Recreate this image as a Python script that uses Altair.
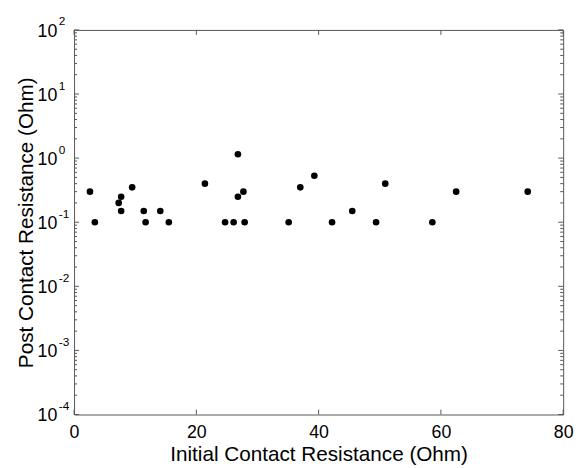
import altair as alt
import pandas as pd

# Data
initial = [2.6, 3.4, 7.3, 7.7, 7.7, 9.5, 11.4, 11.7, 14.1, 15.5, 21.4, 24.7, 26.1,
           26.8, 26.8, 27.7, 27.9, 35.1, 37.0, 39.3, 42.2, 45.5, 49.4, 50.9, 58.6, 62.5, 74.2]
post = [0.30, 0.10, 0.20, 0.25, 0.15, 0.35, 0.15, 0.10, 0.15, 0.10, 0.40, 0.10, 0.10,
        1.15, 0.25, 0.30, 0.10, 0.10, 0.35, 0.53, 0.10, 0.15, 0.10, 0.40, 0.10, 0.30, 0.30]

x_ticks = [0, 20, 40, 60, 80]
y_major = [1e-4, 1e-3, 1e-2, 1e-1, 1e0, 1e1, 1e2]
y_exp = ["-4", "-3", "-2", "-1", "0", "1", "2"]
y_minor = [m * 10.0 ** k for k in range(-4, 2) for m in range(2, 10)]

W, H = 496, 390
FONT = "Liberation Sans"
EDGE = "#555555"

pts = pd.DataFrame({"initial": initial, "post": post})
xt = pd.DataFrame({"initial": x_ticks})
ymaj = pd.DataFrame({"post": y_major, "e": y_exp})
ymin = pd.DataFrame({"post": y_minor})

xs = alt.Scale(domain=[0, 80], nice=False, zero=False)
ys = alt.Scale(type="log", domain=[1e-4, 1e2], nice=False)

x_axis = alt.Axis(
    values=x_ticks, ticks=False, domain=False, grid=False,
    labelFont=FONT, labelFontSize=18, labelColor="black", labelPadding=9,
    labelFlush=False, labelOverlap=False,
    title="Initial Contact Resistance (Ohm)", titleFont=FONT, titleFontSize=21,
    titleFontWeight="normal", titleColor="black", titlePadding=3)
y_axis = alt.Axis(
    labels=False, ticks=False, domain=False, grid=False,
    title="Post Contact Resistance (Ohm)", titleFont=FONT, titleFontSize=21,
    titleFontWeight="normal", titleColor="black", titlePadding=38)

X = lambda: alt.X("initial:Q", scale=xs, axis=x_axis)
Y = lambda: alt.Y("post:Q", scale=ys, axis=y_axis)

points = alt.Chart(pts).mark_circle(size=45, color="black", opacity=1).encode(x=X(), y=Y())

def xrule(y1, y2):
    return alt.Chart(xt).mark_rule(color=EDGE, strokeWidth=1).encode(
        x=X(), y=alt.value(y1), y2=alt.value(y2))

def yrule(df, x1, x2):
    return alt.Chart(df).mark_rule(color=EDGE, strokeWidth=1).encode(
        y=Y(), x=alt.value(x1), x2=alt.value(x2))

ticks = [
    xrule(H, H - 5), xrule(0, 5),
    yrule(ymaj, 0, 5), yrule(ymaj, W, W - 5),
    yrule(ymin, 0, 3), yrule(ymin, W, W - 3),
]

lab10 = alt.Chart(ymaj).mark_text(
    align="right", baseline="middle", dx=-17, dy=2, font=FONT, fontSize=18, color="black"
).encode(y=Y(), x=alt.value(0), text=alt.value("10"))

labexp = alt.Chart(ymaj).mark_text(
    align="left", baseline="middle", dx=-15.5, dy=-8.5, font=FONT, fontSize=12, color="black"
).encode(y=Y(), x=alt.value(0), text="e:N")

chart = alt.layer(points, *ticks, lab10, labexp).properties(
    width=W, height=H,
    autosize=alt.AutoSizeParams(type="none"),
    padding={"left": 67, "top": 19, "right": 12, "bottom": 51},
    background="white",
).configure_view(stroke=EDGE, strokeWidth=1)

chart.save("out.html", embed_options={"renderer": "svg", "actions": False})
